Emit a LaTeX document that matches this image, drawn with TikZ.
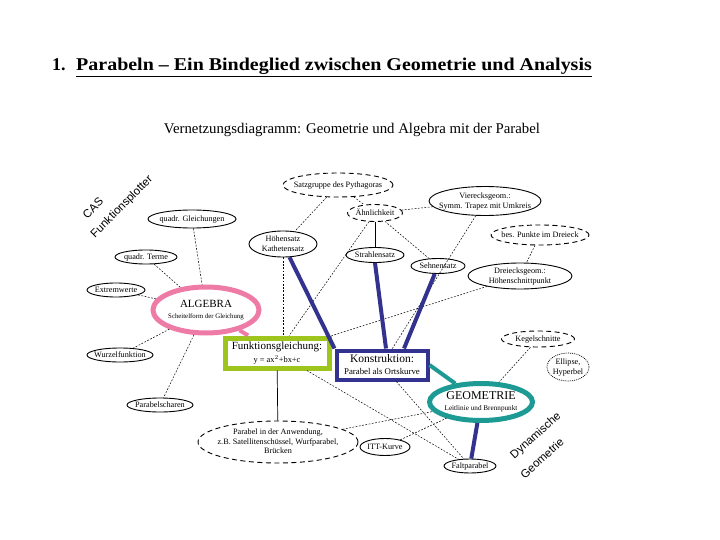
\documentclass[tikz,border=0pt]{standalone}
\usepackage{fontspec}
\setmainfont{Liberation Serif}
\newfontfamily\arialf{Liberation Sans}
\usetikzlibrary{shapes.geometric}
\definecolor{pinkc}{HTML}{EE7AA6}
\definecolor{greenc}{HTML}{9EC51E}
\definecolor{navyc}{HTML}{33338F}
\definecolor{tealc}{HTML}{1E9A94}
\newcommand\zw[1]{\makebox[0pt]{\raisebox{-0.3em}[0pt][0pt]{\begin{tabular}{@{}c@{}}#1\end{tabular}}}}
\tikzset{
  el/.style={ellipse, draw, line width=0.9pt, inner sep=0pt, font=\fontsize{8.2}{9.4}\selectfont},
  dl/.style={el, dash pattern=on 5pt off 3.5pt},
  conn/.style={line width=0.5pt, dash pattern=on 1.8pt off 1.5pt},
  sline/.style={line width=0.7pt},
  navyl/.style={navyc, line width=4pt},
  rot/.style={font=\arialf\fontsize{11.5}{12}\selectfont, inner sep=0pt},
}
\begin{document}
\begin{tikzpicture}[x=1pt,y=-1pt]
\useasboundingbox[fill=white] (0,0) rectangle (720,540);
% header
\node[anchor=base west, font=\fontsize{18}{20}\selectfont\bfseries, inner sep=0pt] (hnum) at (52,71) {1.};
\node[anchor=base west, font=\fontsize{18}{20}\selectfont\bfseries, inner sep=0pt] (hdr) at (76,71)
  {\scalebox{1.11}[1]{\underline{Parabeln – Ein Bindeglied zwischen Geometrie und Analysis}}};
\node[font=\fontsize{14.8}{16}\selectfont, inner sep=0pt] (sub) at (352,130)
  {Vernetzungsdiagramm: Geometrie und Algebra mit der Parabel};
% rotated labels
\node[rot, rotate=45] (cas) at (93,208) {CAS};
\node[rot, rotate=45] (fplot) at (122,207) {Funktionsplotter};
\node[rot, rotate=42] (dyn) at (536,436) {Dynamische};
\node[rot, rotate=42] (geom2) at (542,458) {Geometrie};
% nodes
\node[dl, minimum width=110, minimum height=24] (satz) at (338,185) {\zw{Satzgruppe des Pythagoras}};
\node[dl, minimum width=55, minimum height=17] (aehn) at (375,213) {\zw{Ähnlichkeit}};
\node[el, minimum width=112, minimum height=29] (vier) at (485,201) {\zw{Vierecksgeom.:\\Symm. Trapez mit Umkreis}};
\node[dl, minimum width=98, minimum height=20] (bes) at (540,235) {\zw{bes. Punkte im Dreieck}};
\node[el, minimum width=104, minimum height=26] (drei) at (520,276) {\zw{Dreiecksgeom.:\\Höhenschnittpunkt}};
\node[el, minimum width=54, minimum height=15] (sehn) at (438,266) {\zw{Sehnensatz}};
\node[el, minimum width=58, minimum height=15] (strahl) at (375,255) {\zw{Strahlensatz}};
\node[el, minimum width=68, minimum height=26] (hoeh) at (283,244) {\zw{Höhensatz\\Kathetensatz}};
\node[el, minimum width=88, minimum height=18] (qgl) at (192,219) {\zw{quadr. Gleichungen}};
\node[el, minimum width=62, minimum height=14] (qterm) at (146,257) {\zw{quadr. Terme}};
\node[el, minimum width=58, minimum height=14] (extr) at (116,290) {\zw{Extremwerte}};
\node[ellipse, draw=pinkc, line width=5pt, minimum width=106, minimum height=46, inner sep=0pt] (alg) at (206,310)
  {\zw{{\fontsize{11}{12}\selectfont ALGEBRA}\\[-1pt]{\fontsize{6.8}{8}\selectfont Scheitelform der Gleichung}}};
\node[el, minimum width=66, minimum height=14] (wurz) at (120,355) {\zw{Wurzelfunktion}};
\node[el, minimum width=66, minimum height=14] (schar) at (160,405) {\zw{Parabelscharen}};
\node[rectangle, draw=greenc, line width=5pt, minimum width=104, minimum height=30, inner sep=0pt, align=center] (fkt) at (277,353)
  {{\fontsize{11}{12}\selectfont Funktionsgleichung:}\\[1pt]{\fontsize{8.4}{9}\selectfont y = ax$^2$+bx+c}};
\node[rectangle, draw=navyc, line width=4pt, minimum width=91, minimum height=29, inner sep=0pt, align=center] (konst) at (382,365)
  {{\fontsize{11.5}{12}\selectfont Konstruktion:}\\{\fontsize{8.8}{9}\selectfont Parabel als Ortskurve}};
\node[dl, minimum width=73, minimum height=16] (kegel) at (538,339) {\zw{Kegelschnitte}};
\node[el, densely dotted, line width=0.7pt, minimum width=42, minimum height=28] (ellh) at (568,367) {\zw{Ellipse,\\Hyperbel}};
\node[ellipse, draw=tealc, line width=5pt, minimum width=103, minimum height=37, inner sep=0pt] (geo) at (481,402)
  {\zw{{\fontsize{12}{13}\selectfont GEOMETRIE}\\[-1pt]{\fontsize{7.2}{8}\selectfont Leitlinie und Brennpunkt}}};
\node[el, minimum width=52, minimum height=14] (falt) at (470,466) {\zw{Faltparabel}};
\node[dl, minimum width=160, minimum height=42] (anw) at (278,442) {\zw{Parabel in der Anwendung,\\z.B. Satellitenschüssel, Wurfparabel,\\Brücken}};
\node[el, minimum width=50, minimum height=17] (iit) at (385,447) {\zw{ITT-Kurve}};
% thin dashed connectors
\draw[conn] (qgl) -- (alg);
\draw[conn] (qterm) -- (alg);
\draw[conn] (extr) -- (alg);
\draw[conn] (alg) -- (wurz);
\draw[conn] (alg) -- (schar);
\draw[conn] (satz) -- (hoeh);
\draw[conn] (satz) -- (aehn);
\draw[conn] (aehn) -- (vier);
\draw[conn] (aehn) -- (sehn);
\draw[conn] (aehn) -- (fkt);
\draw[conn] (vier) -- (konst);
\draw[conn] (bes) -- (drei);
\draw[conn] (drei) -- (fkt);
\draw[conn] (hoeh) -- (hoeh |- fkt.north);
\draw[conn] (kegel) -- (geo);
\draw[conn] (anw) -- (geo);
\draw[conn] (iit) -- (geo);
\draw[conn] (konst) -- (falt);
\draw[conn] (fkt) -- (falt);
% solid connectors
\draw[sline] (aehn) -- (strahl);
\draw[sline] (fkt) -- (anw);
% thick connectors
\draw[navyl] (hoeh) -- (konst.north west);
\draw[navyl] (strahl.south) -- ([xshift=4pt]konst.north);
\draw[navyl] (sehn) -- ([xshift=22pt]konst.north);
\draw[navyl] (geo) -- (falt);
\draw[pinkc, line width=4pt] (alg) -- (fkt);
\draw[tealc, line width=4pt] (konst.east) -- (geo);
\end{tikzpicture}
\end{document}
